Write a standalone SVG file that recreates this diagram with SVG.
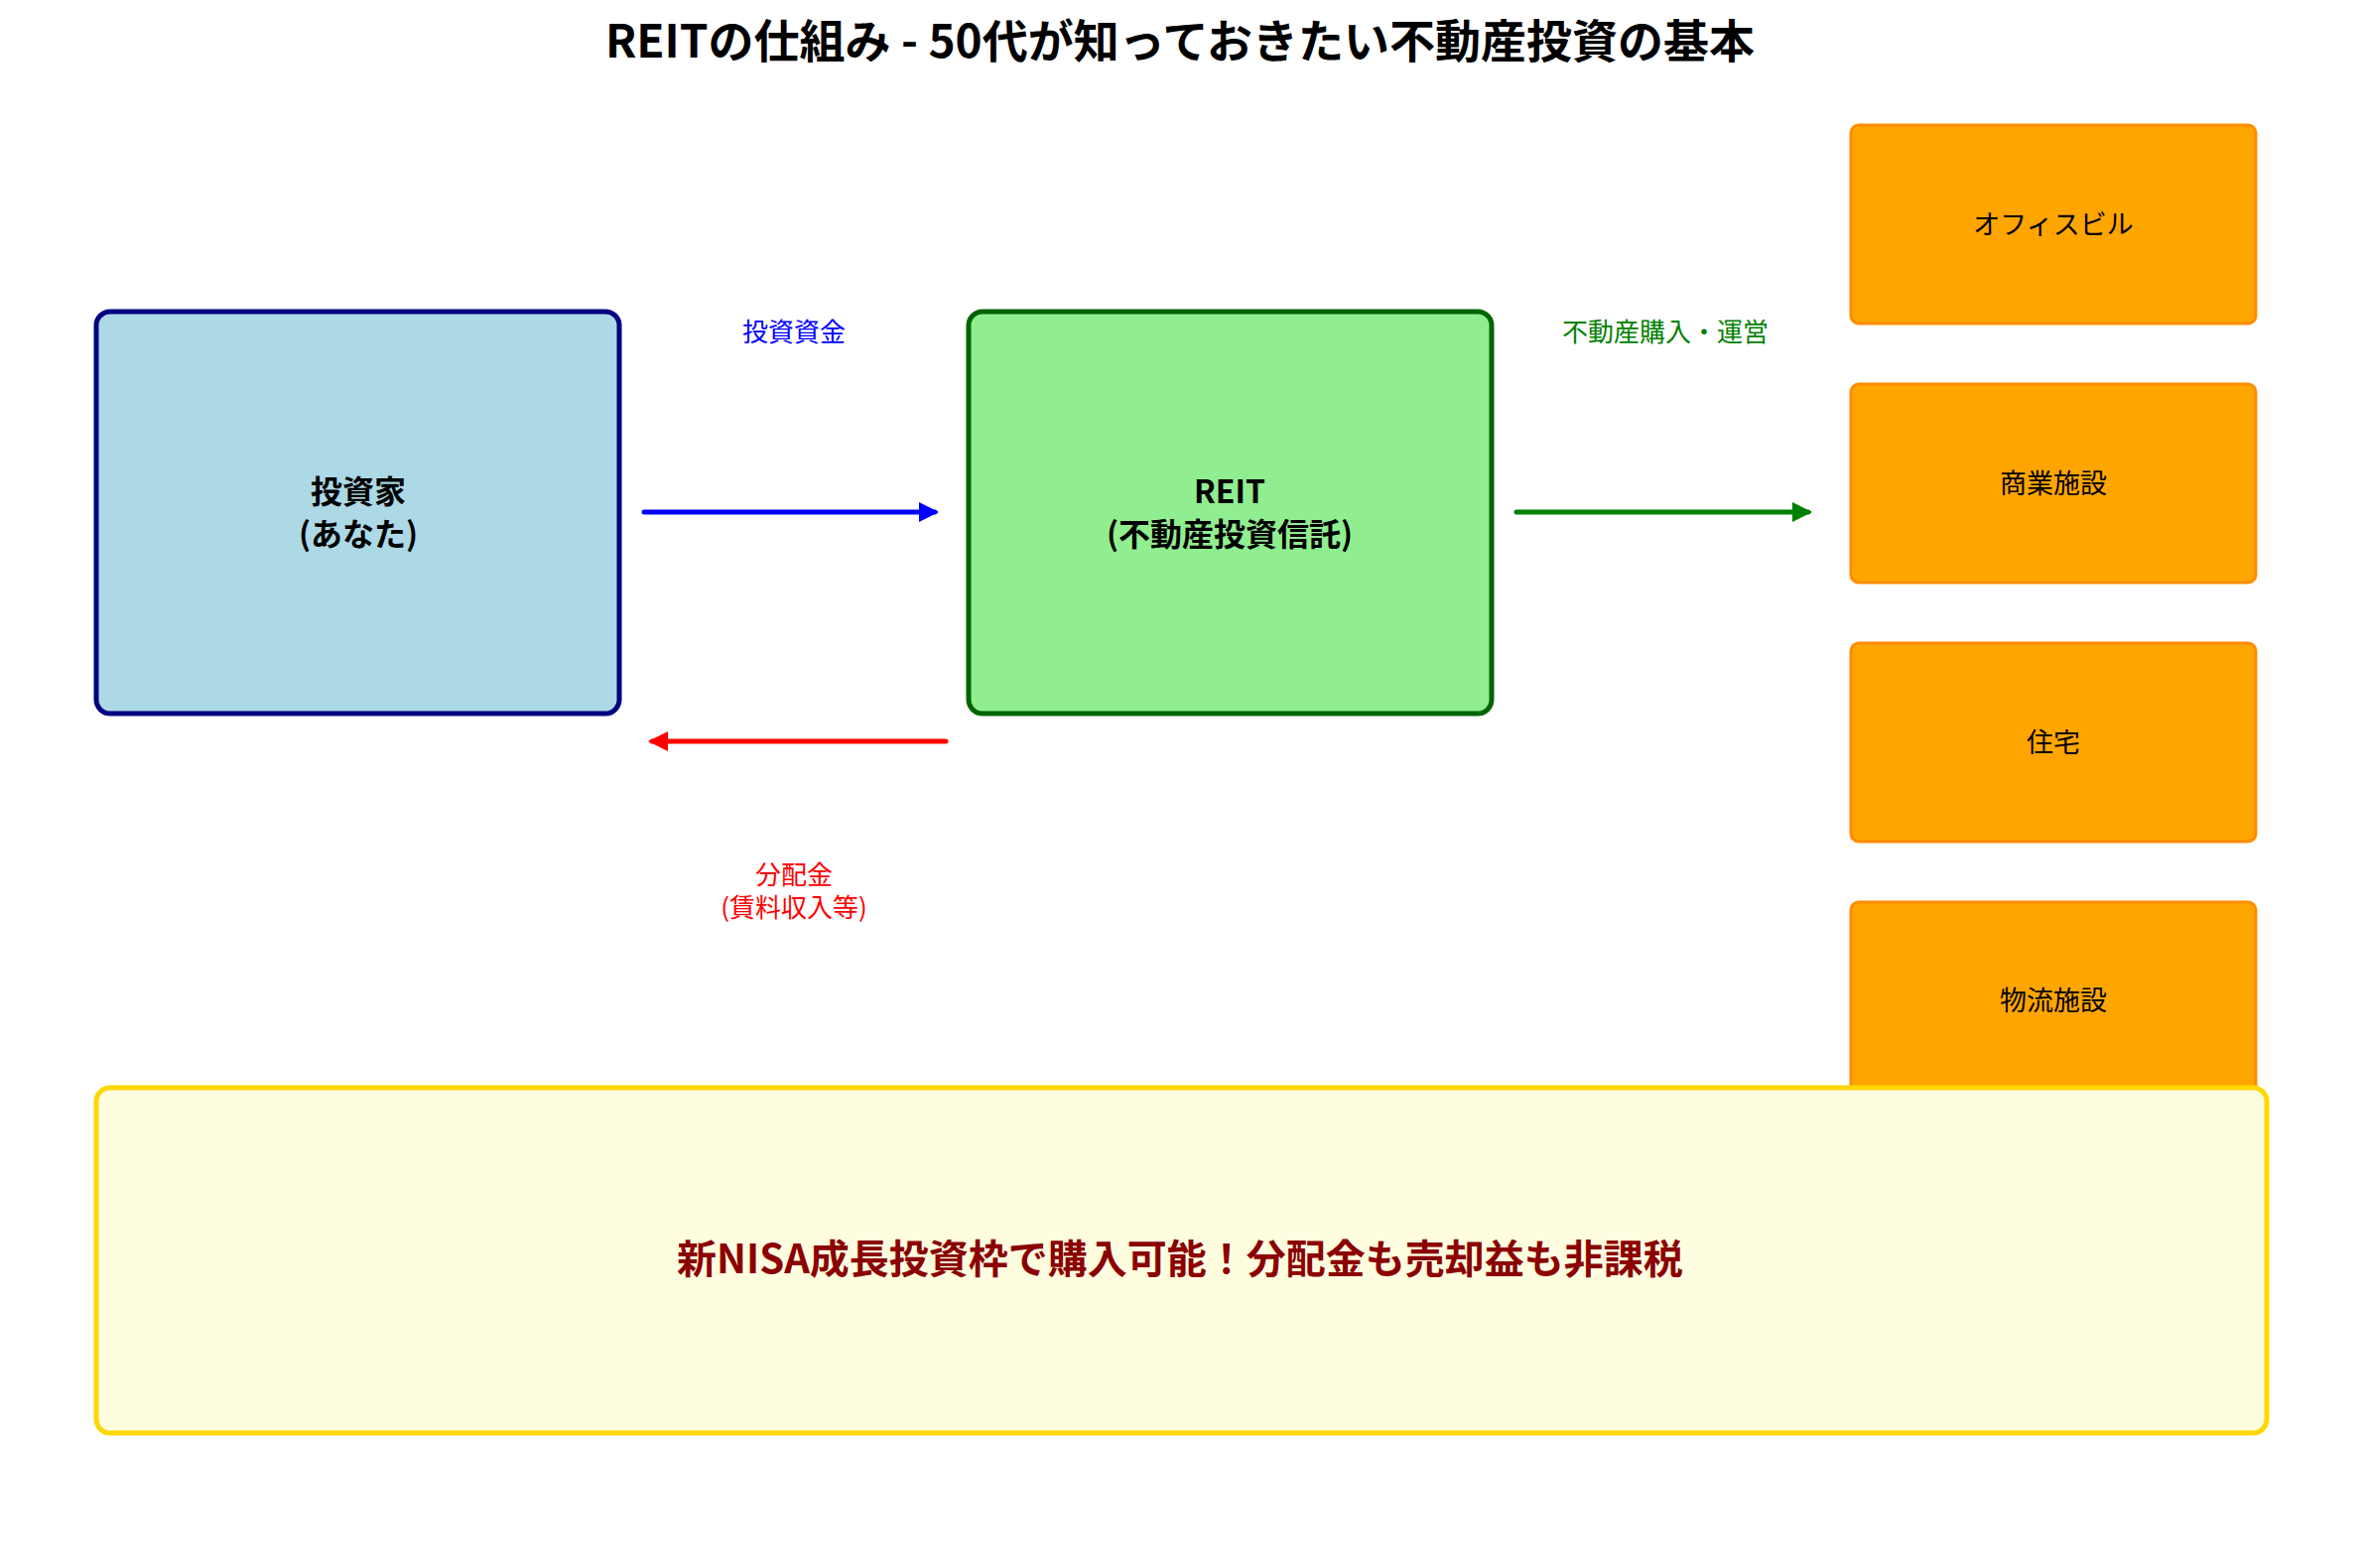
<svg xmlns="http://www.w3.org/2000/svg" width="2379" height="1580" viewBox="0 0 2379 1580">
<style>
text{font-family:"Noto Sans CJK JP","Noto Sans",sans-serif;text-anchor:middle;dominant-baseline:central}
.t{font-size:46px;font-weight:bold}
.n{font-size:32px;font-weight:bold}
.p{fill:#FFA500;stroke:#FF8C00;stroke-width:3}
.pt{font-size:27px}
.l{font-size:26px}
</style>
<defs>
<marker id="ab" viewBox="0 0 10 10" refX="8" refY="5" markerWidth="4" markerHeight="4" orient="auto"><path d="M0,0L10,5L0,10z" fill="#0000FF"/></marker>
<marker id="ag" viewBox="0 0 10 10" refX="8" refY="5" markerWidth="4" markerHeight="4" orient="auto"><path d="M0,0L10,5L0,10z" fill="#008000"/></marker>
<marker id="ar" viewBox="0 0 10 10" refX="8" refY="5" markerWidth="4" markerHeight="4" orient="auto"><path d="M0,0L10,5L0,10z" fill="#FF0000"/></marker>
</defs>
<rect width="2379" height="1580" fill="#fff"/>
<text class="t" x="1189" y="38">REITの仕組み - 50代が知っておきたい不動産投資の基本</text>
<g id="investor"><rect x="97" y="314" width="527" height="405" rx="14" fill="#ADD8E6" stroke="#000080" stroke-width="5"/><text class="n" x="361" y="493">投資家</text><text class="n" x="361" y="536">(あなた)</text></g>
<g id="reit"><rect x="976" y="314" width="527" height="405" rx="14" fill="#90EE90" stroke="#006400" stroke-width="5"/><text class="n" x="1239" y="493">REIT</text><text class="n" x="1239" y="536">(不動産投資信託)</text></g>
<g id="office"><rect class="p" x="1865" y="126" width="408" height="200" rx="8"/><text class="pt" x="2069" y="224">オフィスビル</text></g>
<g id="commercial"><rect class="p" x="1865" y="387" width="408" height="200" rx="8"/><text class="pt" x="2069" y="485">商業施設</text></g>
<g id="residential"><rect class="p" x="1865" y="648" width="408" height="200" rx="8"/><text class="pt" x="2069" y="746">住宅</text></g>
<g id="logistics"><rect class="p" x="1865" y="909" width="408" height="200" rx="8"/><text class="pt" x="2069" y="1006">物流施設</text></g>
<g id="connectors" stroke-width="5" stroke-linecap="round">
<line x1="649" y1="516" x2="942" y2="516" stroke="#0000FF" marker-end="url(#ab)"/>
<line x1="1528" y1="516" x2="1822" y2="516" stroke="#008000" marker-end="url(#ag)"/>
<line x1="953" y1="747" x2="657" y2="747" stroke="#FF0000" marker-end="url(#ar)"/>
<text class="l" x="800" y="332" fill="#0000FF" stroke="none">投資資金</text>
<text class="l" x="1678" y="332" fill="#008000" stroke="none">不動産購入・運営</text>
<text class="l" x="800" y="879" fill="#FF0000" stroke="none">分配金</text>
<text class="l" x="800" y="912" fill="#FF0000" stroke="none">(賃料収入等)</text>
</g>
<g id="nisa"><rect x="97" y="1096" width="2187" height="348" rx="14" fill="#FFFDE0" stroke="#FFD700" stroke-width="5"/><text x="1189" y="1266" font-size="40" font-weight="bold" fill="#8B0000">新NISA成長投資枠で購入可能！分配金も売却益も非課税</text></g>
</svg>
